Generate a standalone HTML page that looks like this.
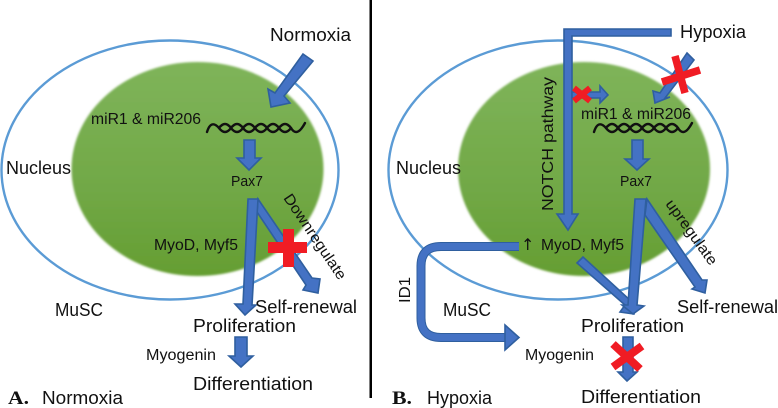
<!DOCTYPE html>
<html><head><meta charset="utf-8"><style>
html,body{margin:0;padding:0;background:#fff}
svg{display:block}
text{font-family:"Liberation Sans",sans-serif;fill:#111}
.b{font-family:"Liberation Serif",serif;font-weight:bold}
.a{fill:#4472c4;stroke:#2f5f9f;stroke-width:1.6;stroke-linejoin:miter}
.w{fill:none;stroke:#111;stroke-width:2.4;stroke-linecap:round}
</style></head><body>
<svg width="778" height="408" viewBox="0 0 778 408" xmlns="http://www.w3.org/2000/svg">
<defs>
<linearGradient id="g" x1="0" y1="0" x2="0" y2="1"><stop offset="0" stop-color="#7fb45a"/><stop offset=".6" stop-color="#71a846"/><stop offset="1" stop-color="#659e32"/></linearGradient>
<filter id="bl" x="-5%" y="-5%" width="110%" height="110%"><feGaussianBlur stdDeviation="1"/></filter>
</defs>
<rect width="778" height="408" fill="#fff"/>
<rect x="369.5" y="0" width="2.5" height="398" fill="#000"/>

<!-- Left cell -->
<ellipse cx="170" cy="170" rx="168.5" ry="129.5" fill="none" stroke="#5b9bd5" stroke-width="2.4"/>
<ellipse cx="197.5" cy="169" rx="126" ry="107" fill="url(#g)" filter="url(#bl)"/>
<polygon class="a" points="303,54 313,61 284,96 290,103 271,107 268,89 275,93"/>
<path class="w" d="M207 132Q211 119 219 128Q225 136 231 128Q237 120 243 128Q249 136 255 128Q261 120 267 128Q273 136 279 128Q285 120 291 128Q297 138 305 123"/>
<path class="w" d="M219 128Q225 120 231 128Q237 136 243 128Q249 120 255 128Q261 136 267 128Q273 120 279 128Q285 136 291 128"/>
<polygon class="a" points="244,140 255,140 255,158 261,158 249,170 237,158 244,158"/>
<polygon class="a" points="258,199 312,278 320,279 318,293 303,290 306,285 257,212"/>
<polygon class="a" points="248,199 258,199 252,305 256,305 245,315 235,304 243,304"/>
<polygon class="a" points="235,337 247,337 247,356 253,356 241,367 229,356 235,356"/>
<rect x="283" y="229" width="11" height="38" fill="#f01c24"/>
<rect x="268" y="242" width="39" height="11" fill="#f01c24"/>

<!-- Right cell -->
<ellipse cx="558" cy="170" rx="169.5" ry="129.5" fill="none" stroke="#5b9bd5" stroke-width="2.4"/>
<ellipse cx="584" cy="169" rx="126" ry="107" fill="url(#g)" filter="url(#bl)"/>
<polygon class="a" points="564,29 671,29 671,36 572,36 572,214 578,214 568,230 557,214 564,214"/>
<polygon class="a" points="572,92 600,92 600,86 608,95 600,103 600,98 572,98"/>
<polygon class="a" points="687,53 694,60 665,98 670,97 655,103 653,91 660,93"/>
<path class="w" d="M594 132Q598 119 606 128Q612 136 618 128Q624 120 630 128Q636 136 642 128Q648 120 654 128Q660 136 666 128Q672 120 678 128Q684 138 692 123"/>
<path class="w" d="M606 128Q612 120 618 128Q624 136 630 128Q636 120 642 128Q648 136 654 128Q660 120 666 128Q672 136 678 128"/>
<polygon class="a" points="632,140 643,140 643,159 649,159 637,170 625,159 632,159"/>
<polygon class="a" points="647,199 702,280 707,280 705,293 692,289 695,287 645,215"/>
<polygon class="a" points="577,263 583,257 632,302 637,300 634,314 620,312 625,305"/>
<polygon class="a" points="635,199 646,199 637,305 644,306 633,314 622,305 628,305"/>
<polygon class="a" points="623,337 633,337 633,372 637,372 627,381 618,372 623,372"/>
<path d="M519 246.5H441Q421 246.5 421 266V318Q421 337.5 441 337.5H506" fill="none" stroke="#2f5f9f" stroke-width="9"/>
<path d="M519 246.5H441Q421 246.5 421 266V318Q421 337.5 441 337.5H506" fill="none" stroke="#4472c4" stroke-width="7"/>
<polygon class="a" points="505,325 519,337.5 505,350"/>
<path d="M574 88L590 101M590 88L574 101" stroke="#f01c24" stroke-width="6" fill="none"/>
<path d="M675 56L685 93M662 82L700 70" stroke="#f01c24" stroke-width="7.5" fill="none"/>
<path d="M613 344L640 369M642 346L613 367" stroke="#f01c24" stroke-width="8" fill="none"/>

<!-- Left text -->
<text x="270" y="41" font-size="18.5" textLength="81" lengthAdjust="spacingAndGlyphs">Normoxia</text>
<text x="6" y="174" font-size="18" textLength="65" lengthAdjust="spacingAndGlyphs">Nucleus</text>
<text x="91" y="124" font-size="15.5" textLength="110" lengthAdjust="spacingAndGlyphs">miR1 &amp; miR206</text>
<text x="231" y="186" font-size="15" textLength="32" lengthAdjust="spacingAndGlyphs">Pax7</text>
<text transform="translate(283,198) rotate(56)" font-size="15" textLength="100" lengthAdjust="spacingAndGlyphs">Downregulate</text>
<text x="154" y="250" font-size="15.5" textLength="84" lengthAdjust="spacingAndGlyphs">MyoD, Myf5</text>
<text x="55" y="316" font-size="18" textLength="48" lengthAdjust="spacingAndGlyphs">MuSC</text>
<text x="255" y="313" font-size="18" textLength="102" lengthAdjust="spacingAndGlyphs">Self-renewal</text>
<text x="193" y="332" font-size="18" textLength="103" lengthAdjust="spacingAndGlyphs">Proliferation</text>
<text x="146" y="360" font-size="15.5" textLength="70" lengthAdjust="spacingAndGlyphs">Myogenin</text>
<text x="193" y="390" font-size="18" textLength="120" lengthAdjust="spacingAndGlyphs">Differentiation</text>
<text class="b" x="8" y="404" font-size="19" textLength="21" lengthAdjust="spacingAndGlyphs">A.</text>
<text x="42" y="404" font-size="18" textLength="81" lengthAdjust="spacingAndGlyphs">Normoxia</text>

<!-- Right text -->
<text x="680" y="38" font-size="18" textLength="66" lengthAdjust="spacingAndGlyphs">Hypoxia</text>
<text x="396" y="174" font-size="18" textLength="65" lengthAdjust="spacingAndGlyphs">Nucleus</text>
<text transform="translate(553,211) rotate(-90)" font-size="16" textLength="134" lengthAdjust="spacingAndGlyphs">NOTCH pathway</text>
<text x="581" y="119" font-size="15.5" textLength="110" lengthAdjust="spacingAndGlyphs">miR1 &amp; miR206</text>
<text x="620" y="186" font-size="15" textLength="32" lengthAdjust="spacingAndGlyphs">Pax7</text>
<text transform="translate(665,204) rotate(54)" font-size="15" textLength="77" lengthAdjust="spacingAndGlyphs">upregulate</text>
<text x="521" y="250" font-size="16" style="font-family:'DejaVu Sans',sans-serif">↑</text>
<text x="541" y="250" font-size="15.5" textLength="83" lengthAdjust="spacingAndGlyphs">MyoD, Myf5</text>
<text transform="translate(410,303) rotate(-90)" font-size="15.5" textLength="26" lengthAdjust="spacingAndGlyphs">ID1</text>
<text x="443" y="316" font-size="18" textLength="48" lengthAdjust="spacingAndGlyphs">MuSC</text>
<text x="677" y="313" font-size="18" textLength="101" lengthAdjust="spacingAndGlyphs">Self-renewal</text>
<text x="581" y="332" font-size="18" textLength="103" lengthAdjust="spacingAndGlyphs">Proliferation</text>
<text x="525" y="360" font-size="15.5" textLength="69" lengthAdjust="spacingAndGlyphs">Myogenin</text>
<text x="581" y="403" font-size="18" textLength="120" lengthAdjust="spacingAndGlyphs">Differentiation</text>
<text class="b" x="392" y="404" font-size="19" textLength="20" lengthAdjust="spacingAndGlyphs">B.</text>
<text x="427" y="404" font-size="18" textLength="65" lengthAdjust="spacingAndGlyphs">Hypoxia</text>
</svg>
</body></html>
